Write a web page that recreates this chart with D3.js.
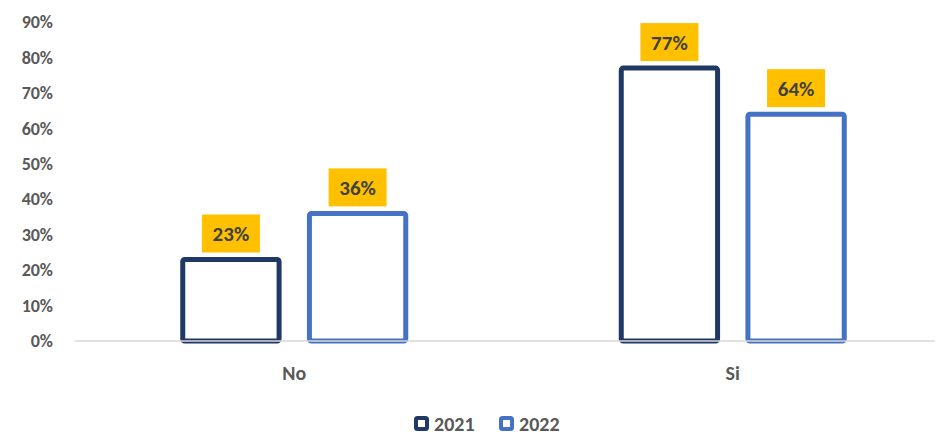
<!DOCTYPE html>
<html>
<head>
<meta charset="utf-8">
<script src="https://cdn.jsdelivr.net/npm/d3@7"></script>
<style>
  body { margin: 0; background: #fff; }
  svg { font-family: Carlito, "Open Sans", sans-serif; font-weight: bold; }
</style>
</head>
<body>
<div id="chart"></div>
<script>
var categories = ["No", "Si"];
var years = ["2021", "2022"];
var values2021 = [23, 77];
var values2022 = [36, 64];
var yTicks = [0, 10, 20, 30, 40, 50, 60, 70, 80, 90];

var colors = { "2021": "#203864", "2022": "#4472C4" };

var width = 939, height = 435;

var svg = d3.select("#chart").append("svg")
  .attr("width", width)
  .attr("height", height);

var x = d3.scaleBand().domain(categories).range([75, 952]);
var xs = d3.scaleBand().domain(years).range([0, 228]).paddingInner(0.2);
var y = d3.scaleLinear().domain([0, 90]).range([341, 22]);

var data = [];
categories.forEach(function(c, i) {
  data.push({ cat: c, year: "2021", value: values2021[i] });
  data.push({ cat: c, year: "2022", value: values2022[i] });
});

// y axis labels
var yAxis = d3.axisLeft(y).tickValues(yTicks).tickFormat(function(d) { return d + "%"; }).tickSize(0).tickPadding(0);
svg.append("g")
  .attr("transform", "translate(53,0)")
  .call(yAxis)
  .call(function(g) {
    g.select(".domain").remove();
    g.selectAll("text").attr("fill", "#595959").attr("font-size", "18px").attr("font-weight", "bold")
      .attr("font-family", "Carlito, 'Open Sans', sans-serif");
  });

// bars
var groupOffset = function(c) { return x(c) + x.bandwidth() / 2 - 114; };

svg.selectAll("rect.bar")
  .data(data)
  .enter()
  .append("rect")
  .attr("class", "bar")
  .attr("x", function(d) { return groupOffset(d.cat) + xs(d.year) + 2.5; })
  .attr("y", function(d) { return y(d.value); })
  .attr("width", xs.bandwidth() - 5)
  .attr("height", function(d) { return y(0) - y(d.value); })
  .attr("rx", 2)
  .attr("fill", "#fff")
  .attr("stroke", function(d) { return colors[d.year]; })
  .attr("stroke-width", 5);

// baseline
svg.append("line")
  .attr("x1", 75).attr("x2", 935)
  .attr("y1", y(0)).attr("y2", y(0))
  .attr("stroke", "#d9d9d9")
  .attr("stroke-width", 1.5);

// x axis labels
var xAxis = d3.axisBottom(x).tickSize(0).tickPadding(0);
svg.append("g")
  .attr("transform", "translate(0,0)")
  .call(xAxis)
  .call(function(g) {
    g.select(".domain").remove();
    g.selectAll("text").attr("fill", "#595959").attr("font-size", "20px").attr("font-weight", "bold")
      .attr("font-family", "Carlito, 'Open Sans', sans-serif")
      .attr("dy", null).attr("y", 380);
  });

// data labels
var labels = svg.selectAll("g.lab")
  .data(data)
  .enter()
  .append("g")
  .attr("class", "lab")
  .attr("transform", function(d) {
    var cx = groupOffset(d.cat) + xs(d.year) + xs.bandwidth() / 2;
    return "translate(" + cx + "," + (y(d.value) - 7) + ")";
  });

labels.append("rect")
  .attr("x", -29).attr("y", -38)
  .attr("width", 58).attr("height", 38)
  .attr("fill", "#FFC000");

labels.append("text")
  .attr("text-anchor", "middle")
  .attr("y", -11)
  .attr("fill", "#404040")
  .attr("font-size", "21px")
  .text(function(d) { return d.value + "%"; });

// legend
var legend = svg.selectAll("g.leg")
  .data(years)
  .enter()
  .append("g")
  .attr("class", "leg")
  .attr("transform", function(d, i) { return "translate(" + (414 + i * 85) + ",416)"; });

legend.append("rect")
  .attr("x", 2).attr("y", 2)
  .attr("width", 11).attr("height", 11)
  .attr("rx", 1.5)
  .attr("fill", "#fff")
  .attr("stroke", function(d) { return colors[d]; })
  .attr("stroke-width", 4);

legend.append("text")
  .attr("x", 20).attr("y", 15)
  .attr("fill", "#595959")
  .attr("font-size", "20px")
  .text(function(d) { return d; });
</script>
</body>
</html>
